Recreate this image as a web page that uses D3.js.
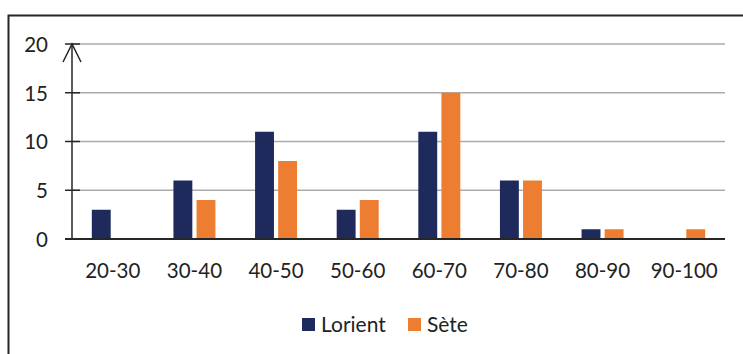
<!DOCTYPE html>
<html>
<head>
<meta charset="utf-8">
<script src="https://cdn.jsdelivr.net/npm/d3@7"></script>
<style>
  html, body { margin: 0; padding: 0; background: #fff; }
  svg { display: block; }
  text { font-family: Lato, "Open Sans", sans-serif; fill: #222; }
</style>
</head>
<body>
<svg id="chart" width="743" height="354"></svg>
<script>
const categories = ["20-30", "30-40", "40-50", "50-60", "60-70", "70-80", "80-90", "90-100"];
const seriesNames = ["Lorient", "Sète"];
const lorient = [3, 6, 11, 3, 11, 6, 1, 0];
const sete = [0, 4, 8, 4, 15, 6, 1, 1];
const yTicks = [0, 5, 10, 15, 20];
const colors = ["#1e2a5c", "#ed7d31"];

const svg = d3.select("#chart");

// frame
svg.append("rect")
  .attr("x", 8.5).attr("y", 15.5)
  .attr("width", 760).attr("height", 400)
  .attr("fill", "none").attr("stroke", "#262626").attr("stroke-width", 2);

const plotLeft = 72, plotRight = 725, plotTop = 44, plotBottom = 239;

const x = d3.scaleBand().domain(categories).range([plotLeft, plotRight]).padding(0);
const y = d3.scaleLinear().domain([0, 20]).range([plotBottom, plotTop]);

const pairWidth = 42;
const xs = d3.scaleBand().domain(seriesNames)
  .range([(x.bandwidth() - pairWidth) / 2, (x.bandwidth() + pairWidth) / 2])
  .paddingInner(0.182).paddingOuter(0);

// gridlines
svg.append("g").selectAll("line").data(yTicks.filter(d => d > 0)).join("line")
  .attr("x1", plotLeft).attr("x2", plotRight)
  .attr("y1", d => y(d)).attr("y2", d => y(d))
  .attr("stroke", "#ababab").attr("stroke-width", 1.6);

// bars
const rows = categories.map((c, i) => ({ cat: c, values: [lorient[i], sete[i]] }));
const groups = svg.append("g").selectAll("g").data(rows).join("g")
  .attr("transform", d => `translate(${x(d.cat)},0)`);
groups.selectAll("rect")
  .data(d => d.values.map((v, j) => ({ name: seriesNames[j], v, j })).filter(e => e.v > 0))
  .join("rect")
  .attr("x", d => xs(d.name))
  .attr("width", xs.bandwidth())
  .attr("y", d => y(d.v))
  .attr("height", d => y(0) - y(d.v))
  .attr("fill", d => colors[d.j]);

// y axis
const yAxis = d3.axisLeft(y).tickValues(yTicks).tickSize(0).tickPadding(0);
const yg = svg.append("g").attr("transform", `translate(${plotLeft},0)`).call(yAxis);
yg.select(".domain").remove();
yg.selectAll("text")
  .attr("x", -24).attr("dy", "0.36em")
  .style("font-size", "20.5px").style("font-family", "Lato, sans-serif").attr("fill", "#222");
// tick marks
svg.append("g").selectAll("line").data(yTicks).join("line")
  .attr("x1", plotLeft - 7).attr("x2", plotLeft + 8)
  .attr("y1", d => y(d)).attr("y2", d => y(d))
  .attr("stroke", "#262626").attr("stroke-width", 1.5);
// vertical axis line
svg.append("line")
  .attr("x1", plotLeft).attr("x2", plotLeft)
  .attr("y1", y(20)).attr("y2", y(0))
  .attr("stroke", "#262626").attr("stroke-width", 1.5);
// arrow head
svg.append("path")
  .attr("d", `M${plotLeft - 9},${y(20) + 18} L${plotLeft},${y(20)} L${plotLeft + 9},${y(20) + 18}`)
  .attr("fill", "none").attr("stroke", "#262626").attr("stroke-width", 1.5);

// x axis baseline
svg.append("line")
  .attr("x1", plotLeft - 7).attr("x2", plotRight)
  .attr("y1", y(0)).attr("y2", y(0))
  .attr("stroke", "#262626").attr("stroke-width", 2);

// x labels
const xAxis = d3.axisBottom(x).tickSize(0).tickPadding(0);
const xg = svg.append("g").attr("transform", `translate(0,${y(0)})`).call(xAxis);
xg.select(".domain").remove();
xg.selectAll("text")
  .attr("y", 39).attr("dy", 0)
  .style("font-size", "20.5px").style("font-family", "Lato, sans-serif").attr("fill", "#222");

// legend
const legend = svg.append("g");
const legendItems = [{ name: seriesNames[0], x: 302 }, { name: seriesNames[1], x: 408 }];
legendItems.forEach((d, i) => {
  legend.append("rect").attr("x", d.x).attr("y", 318).attr("width", 13).attr("height", 13)
    .attr("fill", colors[i]);
  legend.append("text").attr("x", d.x + 19).attr("y", 331.5)
    .style("font-size", "21px").text(d.name);
});
</script>
</body>
</html>
